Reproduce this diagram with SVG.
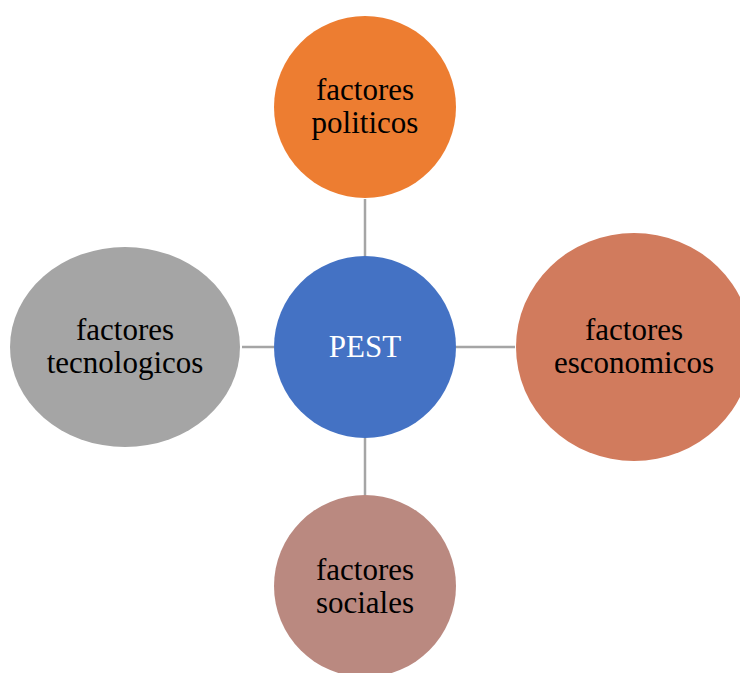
<svg xmlns="http://www.w3.org/2000/svg" width="740" height="673" viewBox="0 0 740 673">
<style>
.t{font-family:"Liberation Serif","Times New Roman",serif;font-size:31px;fill:#000;text-anchor:middle}
.w{fill:#fff}
.c{stroke:#A5A5A5;stroke-width:2.5;fill:none}
</style>
<rect width="740" height="673" fill="#fff"/>
<g id="connectors">
<line class="c" x1="365" y1="199" x2="365" y2="256"/>
<line class="c" x1="365" y1="438" x2="365" y2="495"/>
<line class="c" x1="242" y1="347" x2="274" y2="347"/>
<line class="c" x1="456" y1="347" x2="515" y2="347"/>
</g>
<g id="politicos">
<circle cx="365" cy="107" r="91" fill="#ED7D31"/>
<text class="t" x="365" y="100">factores</text>
<text class="t" x="365" y="133">politicos</text>
</g>
<g id="pest">
<circle cx="365" cy="347" r="91" fill="#4472C4"/>
<text class="t w" x="365" y="357">PEST</text>
</g>
<g id="economicos">
<ellipse cx="634" cy="347" rx="118" ry="114" fill="#D17B5D"/>
<text class="t" x="634" y="340">factores</text>
<text class="t" x="634" y="373">esconomicos</text>
</g>
<g id="sociales">
<circle cx="365" cy="586" r="91" fill="#BA8980"/>
<text class="t" x="365" y="580">factores</text>
<text class="t" x="365" y="613">sociales</text>
</g>
<g id="tecnologicos">
<ellipse cx="125" cy="347" rx="115" ry="100" fill="#A5A5A5"/>
<text class="t" x="125" y="340">factores</text>
<text class="t" x="125" y="373">tecnologicos</text>
</g>
</svg>
